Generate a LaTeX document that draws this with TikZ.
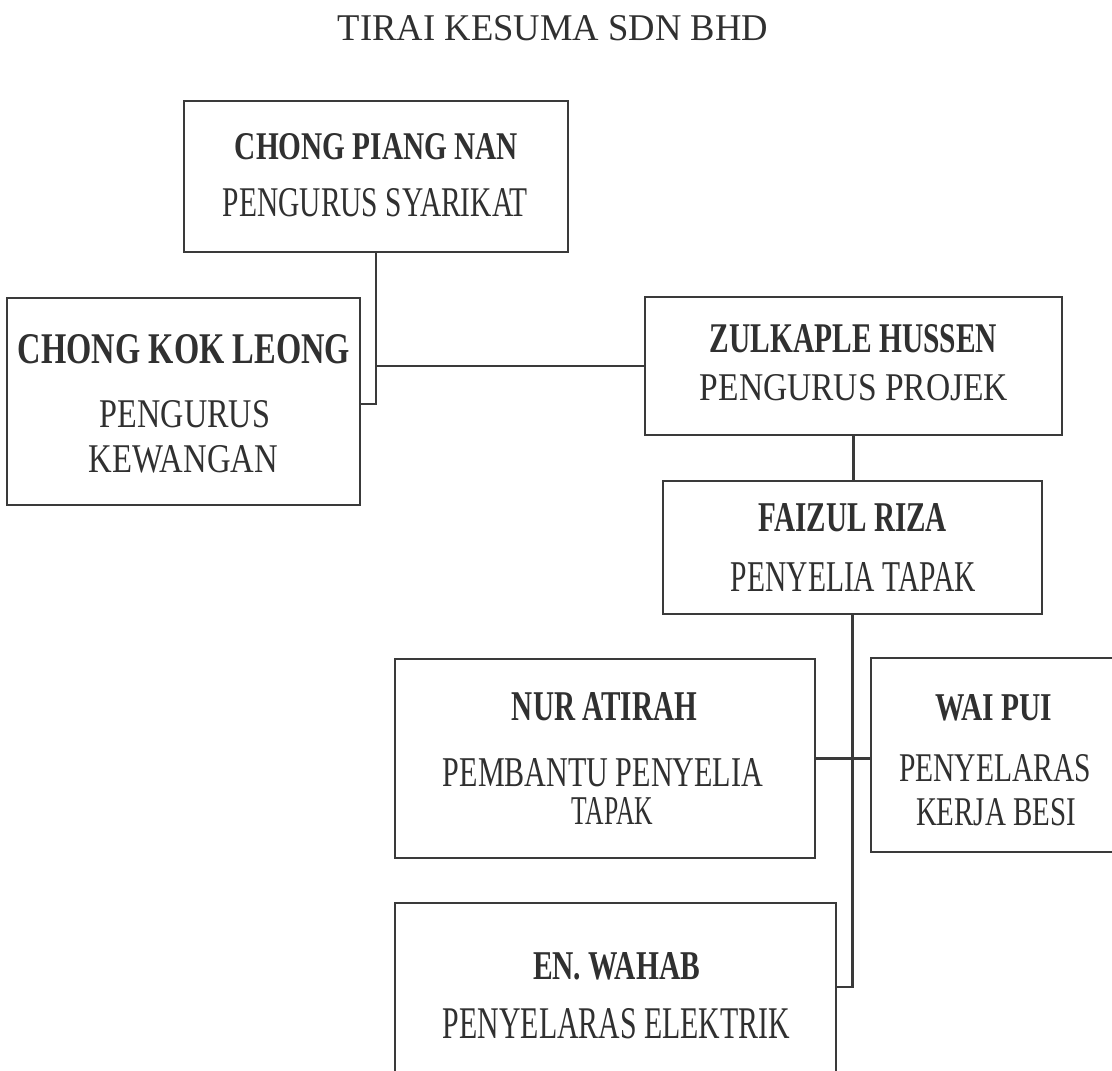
\documentclass[tikz,border=0pt]{standalone}
\usepackage{fontspec}
\setmainfont{Liberation Serif}
\usepackage{graphicx}
\definecolor{ink}{HTML}{303030}
\definecolor{edge}{HTML}{3A3A3A}
\begin{document}
\begin{tikzpicture}[x=1pt,y=-1pt,
  box/.style={draw=edge, line width=2.6pt, fill=white, inner sep=0pt, outer sep=0pt},
  conn/.style={draw=edge, line width=2.6pt},
  txt/.style={anchor=base, inner sep=0pt, outer sep=0pt, text=ink}]
\useasboundingbox (0,0) rectangle (1112,1071);
\clip (0,0) rectangle (1112,1071);
\fill[white] (0,0) rectangle (1112,1071);

% title
\node[txt] (title) at (553,40) {\resizebox{430pt}{25pt}{TIRAI KESUMA SDN BHD}};

% boxes
\node[box, minimum width=384pt, minimum height=151pt] (cpn) at (376,176.5) {};
\node[box, minimum width=353pt, minimum height=207pt] (ckl) at (183.5,401.5) {};
\node[box, minimum width=417pt, minimum height=138pt] (zh) at (853.5,366) {};
\node[box, minimum width=379pt, minimum height=133pt] (fr) at (852.5,547.5) {};
\node[box, minimum width=420pt, minimum height=199pt] (na) at (605,758.5) {};
\node[box, minimum width=254pt, minimum height=194pt] (wp) at (998,755) {};
\node[box, minimum width=441pt, minimum height=187pt] (ew) at (615.5,996.5) {};

% connectors
\coordinate (cklc) at ([yshift=-2.5pt]ckl.east);
\draw[conn] (cpn.south) |- (cklc);
\draw[conn] (cpn.south |- zh.west) -- (zh.west);
\draw[conn] (zh.south) -- (zh.south |- fr.north);
\coordinate (ewc) at ([yshift=9.5pt]ew.east);
\draw[conn] (fr.south) |- (ewc);
\draw[conn] (na.east) -- (na.east -| wp.west);

% texts
\node[txt] (cpnA) at (376.5,159) {\resizebox{283pt}{26pt}{\bfseries CHONG PIANG NAN}};
\node[txt] (cpnB) at (375.5,216) {\resizebox{305pt}{28pt}{PENGURUS SYARIKAT}};

\node[txt] (cklA) at (184,363) {\resizebox{332pt}{29pt}{\bfseries CHONG KOK LEONG}};
\node[txt] (cklB) at (185,427) {\resizebox{170pt}{27pt}{PENGURUS}};
\node[txt] (cklC) at (183.5,472) {\resizebox{189pt}{27pt}{KEWANGAN}};

\node[txt] (zhA) at (853.5,352) {\resizebox{287pt}{28pt}{\bfseries ZULKAPLE HUSSEN}};
\node[txt] (zhB) at (854,400) {\resizebox{308pt}{26pt}{PENGURUS PROJEK}};

\node[txt] (frA) at (853,531) {\resizebox{188pt}{28pt}{\bfseries FAIZUL RIZA}};
\node[txt] (frB) at (853.5,591) {\resizebox{245pt}{29pt}{PENYELIA TAPAK}};

\node[txt] (naA) at (604.5,720) {\resizebox{185pt}{28pt}{\bfseries NUR ATIRAH}};
\node[txt] (naB) at (603,786) {\resizebox{320pt}{28pt}{PEMBANTU PENYELIA}};
\node[txt] (naC) at (612.5,824) {\resizebox{81pt}{27pt}{TAPAK}};

\node[txt] (wpA) at (993.5,720) {\resizebox{117pt}{26pt}{\bfseries WAI PUI}};
\node[txt] (wpB) at (995,781) {\resizebox{192pt}{27pt}{PENYELARAS}};
\node[txt] (wpC) at (996,825) {\resizebox{160pt}{27pt}{KERJA BESI}};

\node[txt] (ewA) at (616.5,979) {\resizebox{167pt}{27pt}{\bfseries EN. WAHAB}};
\node[txt] (ewB) at (616.5,1038) {\resizebox{347pt}{30pt}{PENYELARAS ELEKTRIK}};
\end{tikzpicture}
\end{document}
